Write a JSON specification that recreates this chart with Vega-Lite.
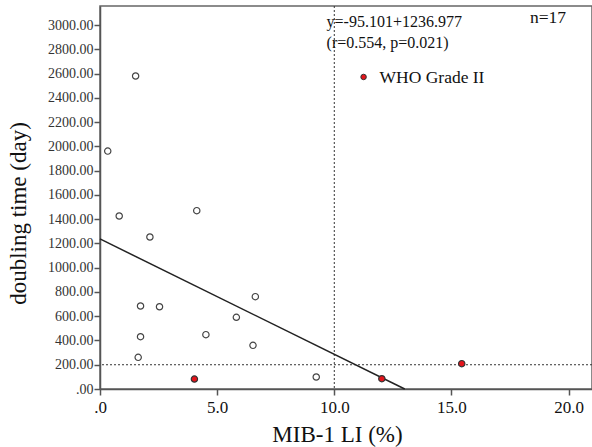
{
  "$schema": "https://vega.github.io/schema/vega-lite/v6.json",
  "autosize": {"type": "none"},
  "padding": {"left": 100, "top": 6, "right": 0, "bottom": 58},
  "width": 492,
  "height": 383,
  "background": "white",
  "config": {
    "font": "Liberation Serif",
    "view": {"stroke": "#666", "strokeWidth": 1.5}
  },
  "datasets": {
    "pts": [
      {"mib": 1.52, "dt": 2580, "grade": "other"},
      {"mib": 0.33, "dt": 1961, "grade": "other"},
      {"mib": 0.82, "dt": 1426, "grade": "other"},
      {"mib": 2.13, "dt": 1253, "grade": "other"},
      {"mib": 4.13, "dt": 1470, "grade": "other"},
      {"mib": 6.63, "dt": 761, "grade": "other"},
      {"mib": 1.73, "dt": 684, "grade": "other"},
      {"mib": 2.54, "dt": 678, "grade": "other"},
      {"mib": 1.73, "dt": 431, "grade": "other"},
      {"mib": 1.63, "dt": 261, "grade": "other"},
      {"mib": 5.82, "dt": 591, "grade": "other"},
      {"mib": 4.52, "dt": 448, "grade": "other"},
      {"mib": 6.53, "dt": 360, "grade": "other"},
      {"mib": 9.23, "dt": 99, "grade": "other"},
      {"mib": 4.03, "dt": 82, "grade": "WHO Grade II"},
      {"mib": 12.03, "dt": 85, "grade": "WHO Grade II"},
      {"mib": 15.44, "dt": 209, "grade": "WHO Grade II"}
    ],
    "fit": [
      {"mib": 0, "dt": 1236.977},
      {"mib": 13.007, "dt": 0}
    ],
    "notes": [
      {"mib": 9.67, "dt": 2984, "label": "y=-95.101+1236.977", "fs": 16},
      {"mib": 9.67, "dt": 2811, "label": "(r=0.554, p=0.021)", "fs": 16},
      {"mib": 18.35, "dt": 3017, "label": "n=17", "fs": 17.5}
    ],
    "legend": [
      {"mib": 11.25, "dt": 2572, "tx": 11.93, "ty": 2522, "label": "WHO Grade II"}
    ]
  },
  "encoding": {
    "x": {
      "field": "mib", "type": "quantitative", "scale": {"domain": [0, 21], "nice": false},
      "axis": {
        "values": [0, 5, 10, 15, 20],
        "labelExpr": "datum.value == 0 ? '.0' : format(datum.value, '.1f')",
        "labelFont": "Liberation Serif", "labelOverlap": false, "labelFlush": false,
        "labelFontSize": 17, "labelColor": "#111", "labelPadding": 4,
        "tickSize": 6, "tickColor": "#555", "tickWidth": 1.5,
        "domainColor": "#555", "domainWidth": 1.5, "grid": false,
        "title": "MIB-1 LI (%)",
        "titleFont": "Liberation Serif", "titleFontSize": 23, "titleFontWeight": "normal",
        "titleColor": "#111", "titleX": 237, "titleY": 52, "titleBaseline": "alphabetic"
      }
    },
    "y": {
      "field": "dt", "type": "quantitative", "scale": {"domain": [0, 3157], "nice": false},
      "axis": {
        "values": [0, 200, 400, 600, 800, 1000, 1200, 1400, 1600, 1800, 2000, 2200, 2400, 2600, 2800, 3000],
        "labelExpr": "datum.value == 0 ? '.00' : format(datum.value, '.2f')",
        "labelFont": "Liberation Serif", "labelOverlap": false, "labelFlush": false,
        "labelFontSize": 14, "labelColor": "#333", "labelPadding": 1,
        "tickSize": 6, "tickColor": "#555", "tickWidth": 1.5,
        "domainColor": "#555", "domainWidth": 1.5, "grid": false,
        "title": "doubling time (day)",
        "titleFont": "Liberation Serif", "titleFontSize": 23, "titleFontWeight": "normal",
        "titleColor": "#111", "titleX": -82, "titleY": 207, "titleBaseline": "middle", "titleAngle": -90
      }
    }
  },
  "layer": [
    {
      "data": {"values": [{"mib": 10}]},
      "mark": {"type": "rule", "color": "#333", "strokeDash": [2, 2], "strokeWidth": 1},
      "encoding": {"y": null}
    },
    {
      "data": {"values": [{"dt": 200}]},
      "mark": {"type": "rule", "color": "#333", "strokeDash": [2, 2], "strokeWidth": 1},
      "encoding": {"x": null}
    },
    {
      "data": {"name": "fit"},
      "mark": {"type": "line", "color": "#222", "strokeWidth": 1.5},
      "encoding": {}
    },
    {
      "data": {"name": "pts"},
      "mark": {"type": "point", "shape": "circle", "filled": false, "size": 40, "strokeWidth": 1.2, "opacity": 1},
      "encoding": {
        "color": {
          "field": "grade", "type": "nominal",
          "scale": {"domain": ["other", "WHO Grade II"], "range": ["#444", "#333"]},
          "legend": null
        },
        "fill": {
          "field": "grade", "type": "nominal",
          "scale": {"domain": ["other", "WHO Grade II"], "range": ["white", "#e4141b"]},
          "legend": null
        }
      }
    },
    {
      "data": {"name": "notes"},
      "mark": {"type": "text", "align": "left", "baseline": "alphabetic", "color": "#111", "font": "Liberation Serif"},
      "encoding": {
        "text": {"field": "label"},
        "size": {"field": "fs", "type": "quantitative", "scale": null}
      }
    },
    {
      "data": {"name": "legend"},
      "mark": {"type": "point", "shape": "circle", "filled": true, "size": 30, "fill": "#e4141b", "stroke": "#333", "strokeWidth": 1, "opacity": 1},
      "encoding": {}
    },
    {
      "data": {"name": "legend"},
      "mark": {"type": "text", "align": "left", "baseline": "alphabetic", "fontSize": 17.5, "color": "#111", "font": "Liberation Serif"},
      "encoding": {
        "x": {"field": "tx", "type": "quantitative"},
        "y": {"field": "ty", "type": "quantitative"},
        "text": {"field": "label"}
      }
    }
  ]
}
